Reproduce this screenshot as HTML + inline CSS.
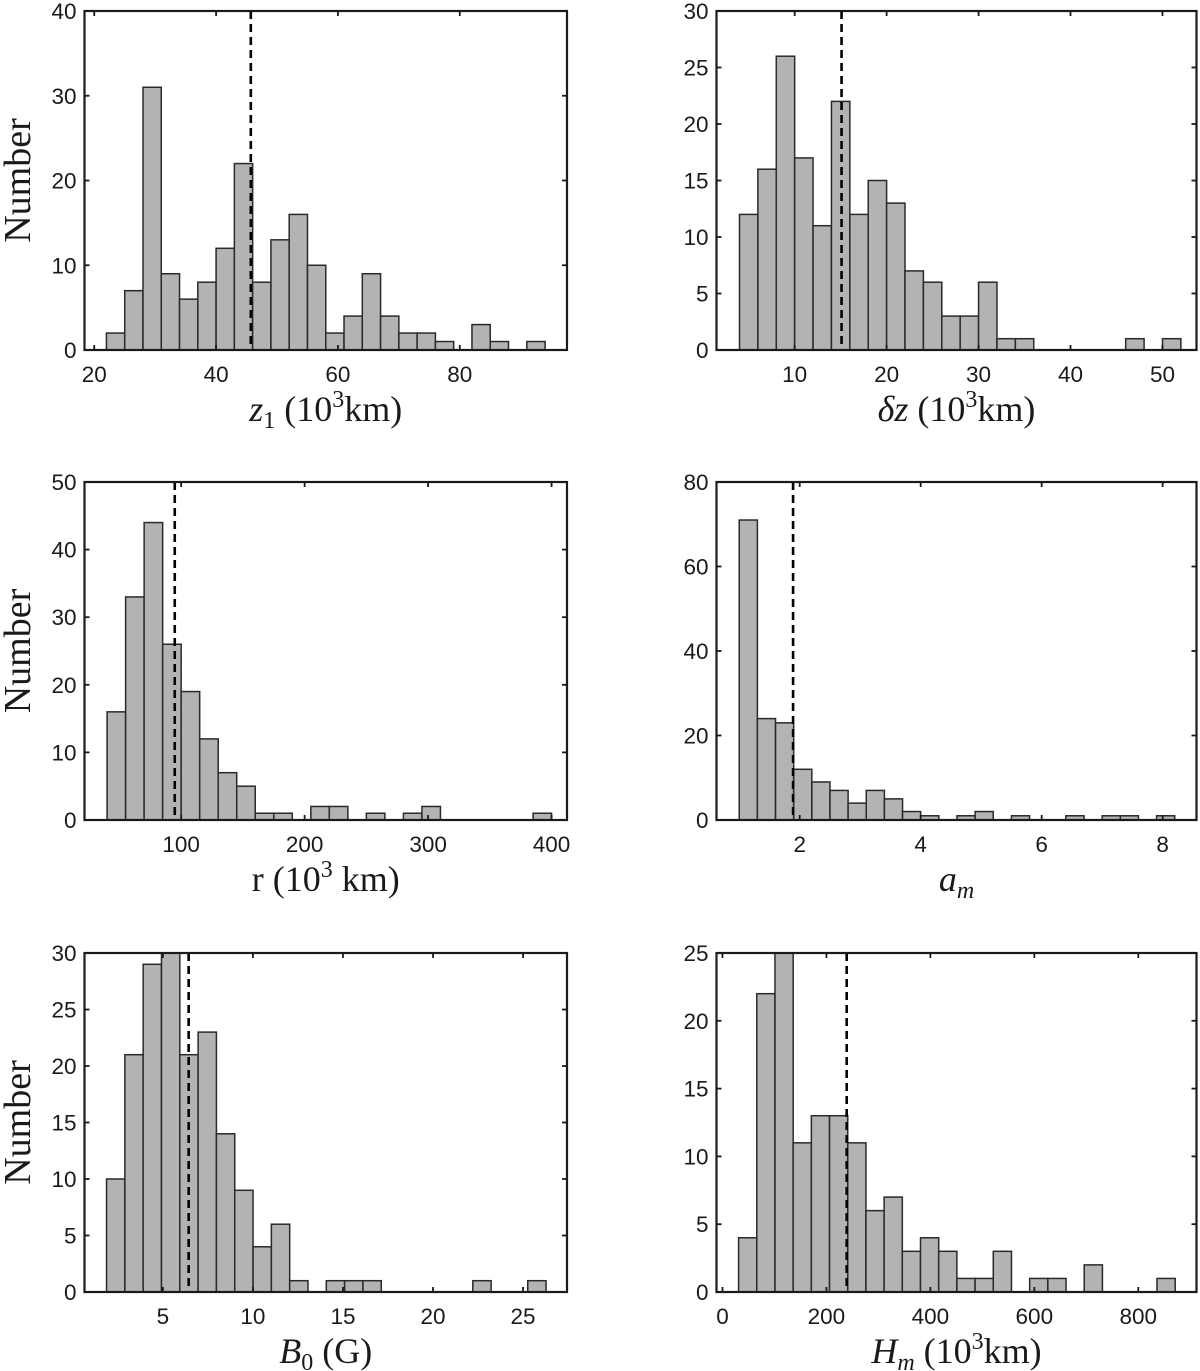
<!DOCTYPE html>
<html><head><meta charset="utf-8"><style>
html,body{margin:0;padding:0;background:#fff;}
svg{display:block;}
.tk{font-family:"Liberation Sans",sans-serif;font-size:22.5px;fill:#1a1a1a;}
.lab{font-family:"Liberation Serif",serif;font-size:36px;fill:#1a1a1a;}
</style></head><body>
<svg id="fig" width="1200" height="1371" viewBox="0 0 1200 1371" xmlns="http://www.w3.org/2000/svg"></svg>
<script>
// Panel 1: z1
const z1Counts=[2,7,31,9,6,8,12,22,8,13,16,10,2,4,9,4,2,2,1,0,3,1,0,1];
const z1XTicks=[20,40,60,80];
const z1YTicks=[0,10,20,30,40];
// Panel 2: dz
const dzCounts=[12,16,26,17,11,22,12,15,13,7,6,3,3,6,1,1,0,0,0,0,0,1,0,1];
const dzXTicks=[10,20,30,40,50];
const dzYTicks=[0,5,10,15,20,25,30];
// Panel 3: r
const rCounts=[16,33,44,26,19,12,7,5,1,1,0,2,2,0,1,0,1,2,0,0,0,0,0,1];
const rXTicks=[100,200,300,400];
const rYTicks=[0,10,20,30,40,50];
// Panel 4: am
const amCounts=[71,24,23,12,9,7,4,7,5,2,1,0,1,2,0,1,0,0,1,0,1,1,0,1];
const amXTicks=[2,4,6,8];
const amYTicks=[0,20,40,60,80];
// Panel 5: B0
const b0Counts=[10,21,29,30,21,23,14,9,4,6,1,0,1,1,1,0,0,0,0,0,1,0,0,1];
const b0XTicks=[5,10,15,20,25];
const b0YTicks=[0,5,10,15,20,25,30];
// Panel 6: Hm
const hmCounts=[4,22,25,11,13,13,11,6,7,3,4,3,1,1,3,0,1,1,0,2,0,0,0,1];
const hmXTicks=[0,200,400,600,800];
const hmYTicks=[0,5,10,15,20,25];
// means (dashed lines)
const meanValues=[45.7,15.1,94.8,1.89,6.43,239];

const NS="http://www.w3.org/2000/svg";
const svg=document.getElementById('fig');
function mk(tag,attrs,parent){const e=document.createElementNS(NS,tag);for(const k in attrs)e.setAttribute(k,attrs[k]);(parent||svg).appendChild(e);return e;}

const panels=[
 {id:'z1',counts:z1Counts,start:22,width:3,xd:[18.4,97.6],yd:[0,40],xt:z1XTicks,yt:z1YTicks,box:[84.5,11,567,350],mean:meanValues[0],
  label:'<tspan font-style="italic">z</tspan><tspan font-size="24" dy="7">1</tspan><tspan dy="-7"> (10</tspan><tspan font-size="24" dy="-14">3</tspan><tspan dy="14">km)</tspan>'},
 {id:'dz',counts:dzCounts,start:4,width:2,xd:[1.5,53.7],yd:[0,30],xt:dzXTicks,yt:dzYTicks,box:[716.5,11,1196.5,350],mean:meanValues[1],
  label:'<tspan font-style="italic">δz</tspan><tspan> (10</tspan><tspan font-size="24" dy="-14">3</tspan><tspan dy="14">km)</tspan>'},
 {id:'r',counts:rCounts,start:40,width:15,xd:[21.7,412.5],yd:[0,50],xt:rXTicks,yt:rYTicks,box:[84.5,482,567,820],mean:meanValues[2],
  label:'<tspan>r  (10</tspan><tspan font-size="24" dy="-14">3</tspan><tspan dy="14">  km)</tspan>'},
 {id:'am',counts:amCounts,start:1,width:0.3,xd:[0.624,8.56],yd:[0,80],xt:amXTicks,yt:amYTicks,box:[716.5,482,1196.5,820],mean:meanValues[3],
  label:'<tspan font-style="italic">a</tspan><tspan font-size="24" font-style="italic" dy="7">m</tspan>'},
 {id:'b0',counts:b0Counts,start:1.87,width:1.017,xd:[0.646,27.44],yd:[0,30],xt:b0XTicks,yt:b0YTicks,box:[84.5,953,567,1292],mean:meanValues[4],
  label:'<tspan font-style="italic">B</tspan><tspan font-size="24" dy="7">0</tspan><tspan dy="-7">  (G)</tspan>'},
 {id:'hm',counts:hmCounts,start:31,width:35,xd:[-11.5,912],yd:[0,25],xt:hmXTicks,yt:hmYTicks,box:[716.5,953,1196.5,1292],mean:meanValues[5],
  label:'<tspan font-style="italic">H</tspan><tspan font-size="24" font-style="italic" dy="7">m</tspan><tspan dy="-7"> (10</tspan><tspan font-size="24" dy="-14">3</tspan><tspan dy="14">km)</tspan>'}
];

panels.forEach((p,pi)=>{
  const [L,T,R,B]=p.box;
  const g=mk('g',{});
  
  
  const xs=v=>L+(v-p.xd[0])/(p.xd[1]-p.xd[0])*(R-L);
  const ys=v=>B-(v-p.yd[0])/(p.yd[1]-p.yd[0])*(B-T);
  p.counts.forEach((c,i)=>{
    if(c<=0)return;
    const x0=xs(p.start+i*p.width),x1=xs(p.start+(i+1)*p.width);
    const r=mk('rect',{x:x0,y:ys(c),width:x1-x0,height:ys(0)-ys(c),fill:'#b3b3b3',stroke:'#2a2a2a','stroke-width':1.5},g);
    
    
  });
  p.xt.forEach(v=>{
    const x=xs(v);
    mk('line',{x1:x,y1:B,x2:x,y2:B-5,stroke:'#1a1a1a','stroke-width':1.8},g);
    mk('line',{x1:x,y1:T,x2:x,y2:T+5,stroke:'#1a1a1a','stroke-width':1.8},g);
    const t=mk('text',{x:x,y:B+32,'text-anchor':'middle',class:'tk'},g);
    t.textContent=v;
    
    
  });
  p.yt.forEach(v=>{
    const y=ys(v);
    mk('line',{x1:L,y1:y,x2:L+5,y2:y,stroke:'#1a1a1a','stroke-width':1.8},g);
    mk('line',{x1:R,y1:y,x2:R-5,y2:y,stroke:'#1a1a1a','stroke-width':1.8},g);
    const t=mk('text',{x:L-8,y:y+8,'text-anchor':'end',class:'tk'},g);
    t.textContent=v;
    
    
  });
  const mx=xs(p.mean);
  const ml=mk('line',{x1:mx,y1:T,x2:mx,y2:B,stroke:'#000','stroke-width':2.6,'stroke-dasharray':'8,5'},g);
  
  
  const bx=mk('rect',{x:L,y:T,width:R-L,height:B-T,fill:'none',stroke:'#1a1a1a','stroke-width':2.2},g);
  
  
  const xl=mk('text',{x:(L+R)/2,y:B+71,'text-anchor':'middle',class:'lab'},g);
  xl.innerHTML=p.label;
  
  
  if(pi%2===0){
    const cy=(T+B)/2;
    const yl=mk('text',{x:0,y:0,'text-anchor':'middle',class:'lab',style:'font-size:38px',transform:'translate(30,'+cy+') rotate(-90)'},g);
    yl.textContent='Number';
    
    
  }
});
</script>
</body></html>
